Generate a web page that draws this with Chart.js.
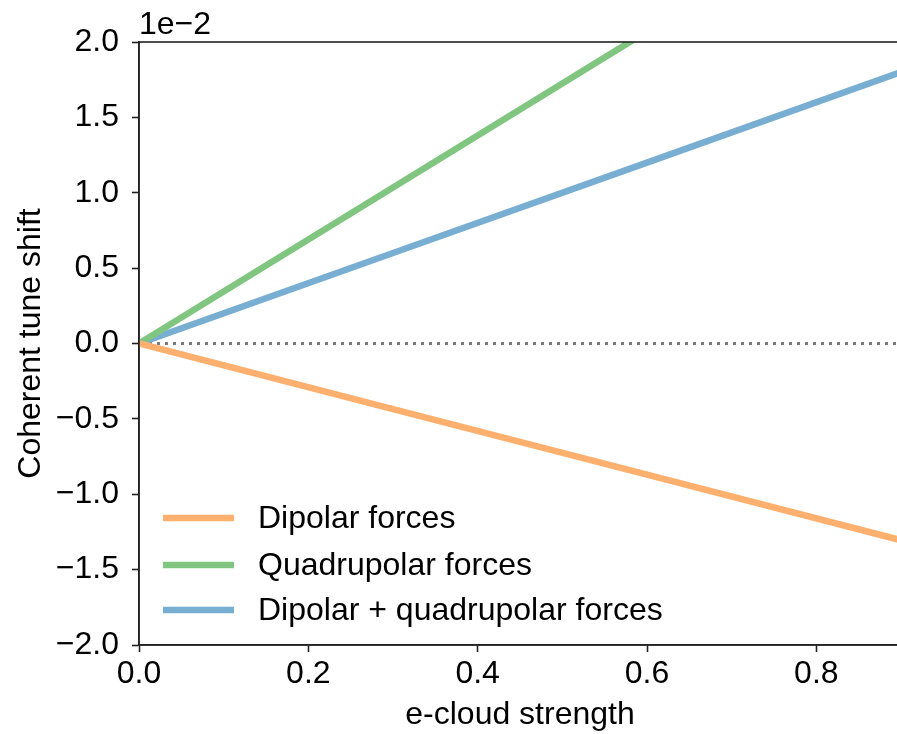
<!DOCTYPE html>
<html>
<head>
<meta charset="utf-8">
<script src="https://cdn.jsdelivr.net/npm/chart.js@4/dist/chart.umd.min.js"></script>
<style>
  html, body { margin: 0; padding: 0; background: #fff; overflow: hidden; }
  #wrap { position: relative; width: 906px; height: 734px; }
</style>
</head>
<body>
<div id="wrap"><canvas id="chart"></canvas></div>
<script>
const strength = [0, 0.3, 0.6, 0.9];
const dipolar = [0, -0.435, -0.87, -1.305];
const quadrupolar = [0, 1.035, 2.07, 3.105];
const combined = [0, 0.6, 1.2, 1.8];
const yTicks = [-2.0, -1.5, -1.0, -0.5, 0.0, 0.5, 1.0, 1.5, 2.0];
const xTicks = [0.0, 0.2, 0.4, 0.6, 0.8];

const FONT = "'Liberation Sans', Arial, sans-serif";
const FS = 32;

function pts(ys) {
  return strength.map((x, i) => ({ x: x, y: ys[i] }));
}

function minus(v) {
  return v.toFixed(1).replace('-', '\u2212');
}

// frame, zero line, offset label, legend (matplotlib style)
const extras = {
  id: 'extras',
  beforeDatasetsDraw(chart) {
    const ctx = chart.ctx;
    const a = chart.chartArea;
    const y0 = chart.scales.y.getPixelForValue(0);
    ctx.save();
    ctx.strokeStyle = '#7a7a7a';
    ctx.lineWidth = 3;
    ctx.setLineDash([3, 5]);
    ctx.beginPath();
    ctx.moveTo(a.left + 2, y0);
    ctx.lineTo(a.right, y0);
    ctx.stroke();
    ctx.restore();
  },
  afterDraw(chart) {
    const ctx = chart.ctx;
    const a = chart.chartArea;
    ctx.save();
    ctx.strokeStyle = '#222';
    ctx.lineWidth = 1.6;
    ctx.strokeRect(a.left, a.top, a.right - a.left, a.bottom - a.top);

    ctx.fillStyle = '#000';
    ctx.font = FS + 'px ' + FONT;
    ctx.textAlign = 'left';
    ctx.textBaseline = 'alphabetic';
    ctx.fillText('1e\u22122', a.left, a.top - 8);

    // legend
    const rows = [518, 565, 610];
    chart.data.datasets.forEach((ds, i) => {
      const y = rows[i];
      ctx.strokeStyle = ds.borderColor;
      ctx.lineWidth = 6.5;
      ctx.setLineDash([]);
      ctx.beginPath();
      ctx.moveTo(a.left + 24, y);
      ctx.lineTo(a.left + 95, y);
      ctx.stroke();
      ctx.textBaseline = 'middle';
      ctx.fillText(ds.label, a.left + 119, y + 1);
    });
    ctx.restore();
  }
};

new Chart(document.getElementById('chart'), {
  type: 'line',
  data: {
    datasets: [
      { label: 'Dipolar forces', data: pts(dipolar), borderColor: '#ffb06e' },
      { label: 'Quadrupolar forces', data: pts(quadrupolar), borderColor: '#80c680' },
      { label: 'Dipolar + quadrupolar forces', data: pts(combined), borderColor: '#79aed3' }
    ]
  },
  options: {
    responsive: true,
    maintainAspectRatio: false,
    animation: false,
    layout: { padding: { top: 42, right: 5, left: 0, bottom: 0 } },
    elements: {
      line: { borderWidth: 6.5, tension: 0, borderCapStyle: 'butt' },
      point: { radius: 0 }
    },
    plugins: {
      legend: { display: false },
      tooltip: { enabled: false }
    },
    scales: {
      x: {
        type: 'linear',
        min: 0,
        max: 0.9,
        afterBuildTicks: (s) => { s.ticks = xTicks.map(v => ({ value: v })); },
        afterFit: (s) => { s.height = 89; },
        ticks: {
          color: '#000',
          font: { size: FS, family: FONT },
          padding: 3,
          maxRotation: 0,
          callback: (v) => minus(v)
        },
        grid: { drawOnChartArea: false, tickLength: 7, tickColor: '#222', tickWidth: 1.6 },
        border: { color: '#222', width: 1.6 },
        title: {
          display: true,
          text: 'e-cloud strength',
          color: '#000',
          font: { size: FS, family: FONT },
          padding: { top: 0, bottom: 0 }
        }
      },
      y: {
        min: -2,
        max: 2,
        afterBuildTicks: (s) => { s.ticks = yTicks.map(v => ({ value: v })); },
        afterFit: (s) => { s.width = 139; },
        ticks: {
          color: '#000',
          font: { size: FS, family: FONT },
          padding: 13,
          callback: (v) => minus(v)
        },
        grid: { drawOnChartArea: false, tickLength: 7, tickColor: '#222', tickWidth: 1.6 },
        border: { color: '#222', width: 1.6 },
        title: {
          display: true,
          text: 'Coherent tune shift',
          color: '#000',
          font: { size: FS, family: FONT },
          padding: { top: 12, bottom: 0 }
        }
      }
    }
  },
  plugins: [extras]
});
</script>
</body>
</html>
